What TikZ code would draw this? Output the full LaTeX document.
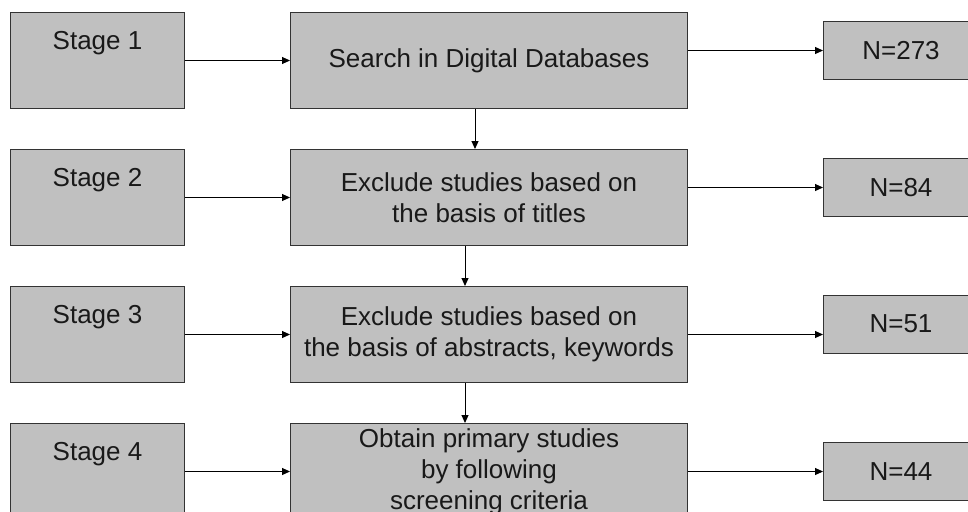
\documentclass[tikz,border=0pt]{standalone}
\usepackage{fontspec}
\setmainfont{Liberation Sans}
\usetikzlibrary{arrows.meta,positioning}

\definecolor{boxgray}{HTML}{C0C0C0}
\tikzset{
  box/.style={draw=black!80, line width=1pt, fill=boxgray, inner sep=0pt,
    align=center, text=black!90, font=\fontsize{26}{31}\selectfont},
  stagebox/.style={box, minimum width=174pt, minimum height=96pt},
  taskbox/.style={box, minimum width=397pt, minimum height=96pt},
  countbox/.style={box, minimum width=155pt, minimum height=58pt},
}

\begin{document}
\begin{tikzpicture}[x=1pt,y=-1pt,>={Triangle[length=8pt,width=7pt]},line width=1pt]

                \useasboundingbox (0,0) rectangle (968,511);
                \clip (0,0) rectangle (968,511);

                \node[stagebox,anchor=north west] (s1) at (10,12) {Stage 1\\\strut};

                \node[taskbox] (p1) [right=105pt of s1] {Search in Digital Databases};

                \node[countbox] (n1) [right=135pt of p1, yshift=10pt] {N=273};

                

                \node[stagebox] (s2) [below=40pt of s1] {Stage 2\\\strut};

                \node[taskbox] (p2) [right=105pt of s2] {Exclude studies based on\\the basis of titles};

                \node[countbox] (n2) [right=135pt of p2, yshift=10pt] {N=84};

                

                \node[stagebox] (s3) [below=40pt of s2] {Stage 3\\\strut};

                \node[taskbox] (p3) [right=105pt of s3] {Exclude studies based on\\the basis of abstracts, keywords};

                \node[countbox] (n3) [right=135pt of p3, yshift=10.5pt] {N=51};

                

                \node[stagebox] (s4) [below=40pt of s3] {Stage 4\\\strut};

                \node[taskbox] (p4) [right=105pt of s4] {Obtain primary studies\\by following\\screening criteria};

                \node[countbox] (n4) [right=135pt of p4] {N=44};

                

                \foreach \i in {1,...,4}
                    {
                    \draw[->] (s\i) -- (p\i);
                    }

                

                \foreach \i in {1,2,4}
                    {
                    \draw[->] (n\i.west -| p\i.east) -- (n\i.west);
                    }

                \draw[->] (p3.east) -- (p3.east -| n3.west);

                

                \draw[->] ([xshift=-14pt]p1.south) -- ([xshift=-14pt]p2.north);

                \foreach \from/\to in {p2/p3, p3/p4} {

                    \draw[->] ([xshift=-24pt]\from.south) -- ([xshift=-24pt]\to.north);

                }

            \end{tikzpicture}
\end{document}
